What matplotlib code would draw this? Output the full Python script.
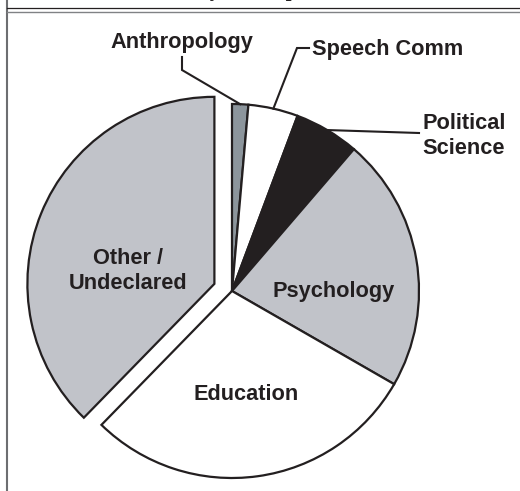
import numpy as np
import matplotlib
matplotlib.use("Agg")
import matplotlib.pyplot as plt

# share of study participants by major (percent)
majors = ["Anthropology", "Speech Comm", "Political\nScience", "Psychology", "Education", "Other /\nUndeclared"]
shares = [1.4, 4.3, 5.6, 22.0, 29.0, 37.7]
colors = ["#8c959c", "#ffffff", "#231f20", "#c1c3c9", "#ffffff", "#c1c3c9"]
explode = [0, 0, 0, 0, 0, 19]

W, H = 520, 491
ink = "#231f20"
plt.rcParams["font.family"] = ["Liberation Sans", "DejaVu Sans"]

fig = plt.figure(figsize=(W / 100, H / 100), dpi=100)
ax = fig.add_axes([0, 0, 1, 1])

def Y(y):
    # pixel row -> data y
    return H - y

center = (232, Y(291))
radius = 187
wedges, _ = ax.pie(shares, colors=colors, explode=explode, startangle=90, counterclock=False,
                   center=center, radius=radius,
                   wedgeprops=dict(edgecolor=ink, linewidth=1.6, joinstyle="miter"))
ax.set_xlim(0, W)
ax.set_ylim(0, H)
ax.set_aspect("equal")
ax.axis("off")

def rim(w):
    t = np.deg2rad((w.theta1 + w.theta2) / 2)
    return w.center[0] + w.r * np.cos(t), w.center[1] + w.r * np.sin(t)

lab = dict(fontsize=15.7, fontweight="bold", color=ink)

# outside labels with leader lines
x0, y0 = rim(wedges[0])
ax.plot([x0, 182, 182], [y0, Y(70), Y(57)], color=ink, lw=1.5, solid_joinstyle="miter")
ax.text(182, Y(42), majors[0], ha="center", va="center", **lab)

x0, y0 = rim(wedges[1])
ax.plot([x0, 297, 309], [y0, Y(48), Y(48)], color=ink, lw=1.5, solid_joinstyle="miter")
ax.text(312, Y(49), majors[1], ha="left", va="center", **lab)

x0, y0 = rim(wedges[2])
ax.plot([x0, 419], [y0, Y(133)], color=ink, lw=1.5)
ax.text(464, Y(136), majors[2], ha="center", va="center", linespacing=1.3, **lab)

# inside labels
ax.text(334, Y(291), majors[3], ha="center", va="center", **lab)
ax.text(246, Y(395), majors[4], ha="center", va="center", **lab)
ax.text(128, Y(271), majors[5], ha="center", va="center", linespacing=1.25, **lab)

# page frame and cut-off heading above the chart
ax.plot([6.5, 6.5], [0, H], color="#6d6e71", lw=1.5, clip_on=False)
ax.plot([7, W], [Y(8), Y(8)], color=ink, lw=0.9, clip_on=False)
ax.plot([7, W], [Y(12.3), Y(12.3)], color="#808285", lw=1.0, clip_on=False)
ax.text(168, Y(-4.5), "Study Participants", ha="left", va="baseline",
        family="Liberation Serif", fontsize=15, fontweight="bold", color=ink, clip_on=False)

fig.savefig("out.png", dpi=100, facecolor="white")
